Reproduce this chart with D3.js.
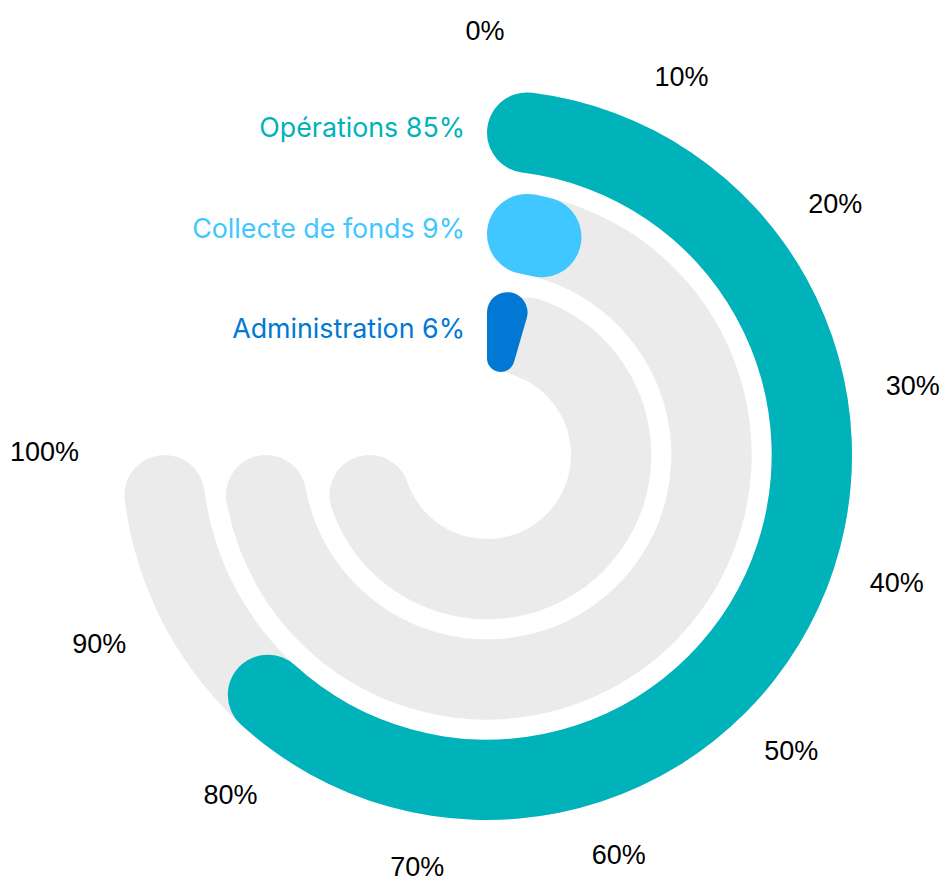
<!DOCTYPE html>
<html><head><meta charset="utf-8">
<script src="https://cdn.jsdelivr.net/npm/d3@7"></script>
<style>html,body{margin:0;padding:0;background:#fff;}</style>
</head><body>
<svg id="chart" width="945" height="883"></svg>
<script>
const categories = ["Opérations", "Collecte de fonds", "Administration"];
const values = [0.85, 0.09, 0.06];
const valueLabels = ["85%", "9%", "6%"];
const colors = ["#00B2B9", "#40C7FF", "#0078D4"];
const tickValues = [0, 0.1, 0.2, 0.3, 0.4, 0.5, 0.6, 0.7, 0.8, 0.9, 1.0];
const tickLabels = ["0%", "10%", "20%", "30%", "40%", "50%", "60%", "70%", "80%", "90%", "100%"];

const svg = d3.select("#chart");
const cx = 487, cy = 455;
const g = svg.append("g").attr("transform", `translate(${cx},${cy})`);

const angle = d3.scaleLinear().domain([0, 1]).range([0, 1.5 * Math.PI]);
const ring = d3.scaleBand().domain(categories).range([365, 84]).paddingInner(0.2);
const bw = ring.bandwidth();

const arc = d3.arc()
  .innerRadius(d => ring(d.cat))
  .outerRadius(d => ring(d.cat) + bw)
  .startAngle(0)
  .endAngle(d => angle(d.v))
  .cornerRadius(bw / 2);

const data = categories.map((c, i) => ({cat: c, v: values[i], color: colors[i], label: valueLabels[i]}));

g.selectAll("path.bg").data(data).join("path")
  .attr("class", "bg")
  .attr("d", d => arc({cat: d.cat, v: 1}))
  .attr("fill", "#EBEBEB");

g.selectAll("path.val").data(data).join("path")
  .attr("class", "val")
  .attr("d", d => arc(d))
  .attr("fill", d => d.color);

// category labels
g.selectAll("text.cat").data(data).join("text")
  .attr("class", "cat")
  .attr("x", 465 - cx)
  .attr("y", d => -(ring(d.cat) + bw / 2) + 7)
  .attr("text-anchor", "end")
  .attr("font-family", "Inter, 'Noto Sans', sans-serif")
  .attr("font-size", 26.8)
  .attr("fill", d => d.color)
  .text(d => d.cat + " " + d.label);

// tick labels
const r0 = 406, fs = 27;
const maxBaseline = 876 - cy;
const ticks = g.selectAll("text.tick").data(tickValues).join("text")
  .attr("class", "tick")
  .attr("font-family", "'Liberation Sans', Arial, sans-serif")
  .attr("font-size", fs)
  .attr("fill", "#000")
  .attr("text-anchor", "middle")
  .text((d, i) => tickLabels[i]);

ticks.each(function(d) {
  const a = angle(d);
  const w = this.getComputedTextLength();
  const h = 30;
  const px = r0 * Math.sin(a) + Math.sin(a) * w / 2 - 2;
  const py = -r0 * Math.cos(a) - Math.cos(a) * h / 2 + 3 * Math.max(0, -Math.cos(a));
  const base = Math.min(py + fs * 0.358 - 4, maxBaseline);
  d3.select(this).attr("x", px).attr("y", base);
});
</script>
</body></html>
